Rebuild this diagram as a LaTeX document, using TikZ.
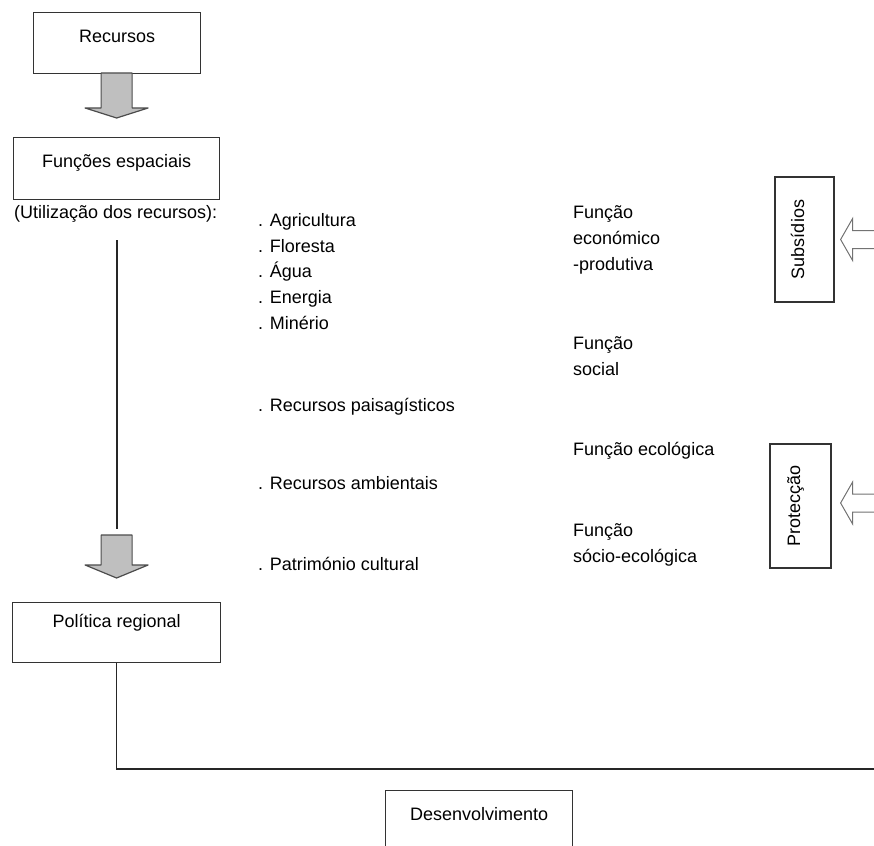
\documentclass[tikz,border=0pt]{standalone}
\usepackage{fontspec}
\setmainfont{Liberation Sans}
\usetikzlibrary{positioning}

\begin{document}
\begin{tikzpicture}[x=1pt,y=-1pt,font=\fontsize{18}{26}\selectfont]
\tikzstyle{box_style} = [draw=black!80, line width=1.2pt, fill=white, inner sep=0pt, anchor=north west, text height=30pt]
\tikzstyle{side_style} = [draw=black!80, line width=1.2pt, rotate=90, inner sep=0pt, text height=13pt, text depth=14pt]
\tikzstyle{item_style} = [anchor=base west, inner sep=0pt, align=left]
\tikzstyle{fill_arrow} = [fill=black!25, draw=black!70, line width=1.2pt, line join=round]
\tikzstyle{open_arrow} = [fill=white, draw=black!55, line width=1pt]
\tikzstyle{line_style} = [black!85, line width=1.2pt]
    \useasboundingbox (0,0) rectangle (874,845);
    \clip (0,0) rectangle (874,845);

    % boxes on the left
    \node[box_style, minimum width=167pt, text depth=31pt] (rec) at (33,12) {Recursos};
    \node[box_style, minimum width=206pt, text depth=32pt] (fun) at (13,137) {Funções espaciais};
    \node[box_style, minimum width=208pt, text height=25pt, text depth=35pt] (pol) at (12,602) {Política regional};
    \node[box_style, minimum width=187pt, text depth=60pt] (des) at (385,790) {Desenvolvimento};

    % boxes on the right
    \node[side_style, minimum width=125pt, minimum height=59pt] (sub) at (804.5,239.5) {Subsídios};
    \node[side_style, minimum width=124pt, minimum height=61pt] (pro) at (800.5,506) {Protecção};

    \node[item_style] (util) at (14,218) {(Utilização dos recursos):};

    \node[item_style] (i1) at (258,226) {. Agricultura};
    \node[item_style] (i2) at (258,252) {. Floresta};
    \node[item_style] (i3) at (258,277) {. Água};
    \node[item_style] (i4) at (258,303) {. Energia};
    \node[item_style] (i5) at (258,329) {. Minério};
    \node[item_style] (i6) at (258,411) {. Recursos paisagísticos};
    \node[item_style] (i7) at (258,489) {. Recursos ambientais};
    \node[item_style] (i8) at (258,570) {. Património cultural};

    % base = last line
    \node[item_style] (f1) at (573,270) {Função\\económico\\-produtiva};
    \node[item_style] (f2) at (573,375) {Função\\social};
    \node[item_style] (f3) at (573,455) {Função ecológica};
    \node[item_style] (f4) at (573,562) {Função\\sócio-ecológica};

    % grey arrows
    \draw[fill_arrow] ([yshift=19pt]fun.north) -- ++(-31.5,-10) -- ++(16,0) -- ++(0,-35)
        -- ++(31,0) -- ++(0,35) -- ++(16,0) -- cycle;
    \draw[fill_arrow] ([yshift=24pt]pol.north) -- ++(-31.5,-13) -- ++(16,0) -- ++(0,-30)
        -- ++(31,0) -- ++(0,30) -- ++(16,0) -- cycle;

    % open arrows
    \draw[open_arrow] ([xshift=6pt]sub.south) -- ++(12,-21) -- ++(0,12) -- ++(40,0)
        -- ++(0,18) -- ++(-40,0) -- ++(0,12) -- cycle;
    \draw[open_arrow] ([shift={(9,-3)}]pro.south) -- ++(12,-21) -- ++(0,12) -- ++(40,0)
        -- ++(0,18) -- ++(-40,0) -- ++(0,12) -- cycle;

    % lines
    \coordinate (top) at (117,240);
    \coordinate (bot) at (117,529);
    \coordinate (right) at (880,769);
    \draw[line_style] (top) -- (bot);
    \draw[line_style] (pol.south) |- (right);
\end{tikzpicture}
\end{document}
